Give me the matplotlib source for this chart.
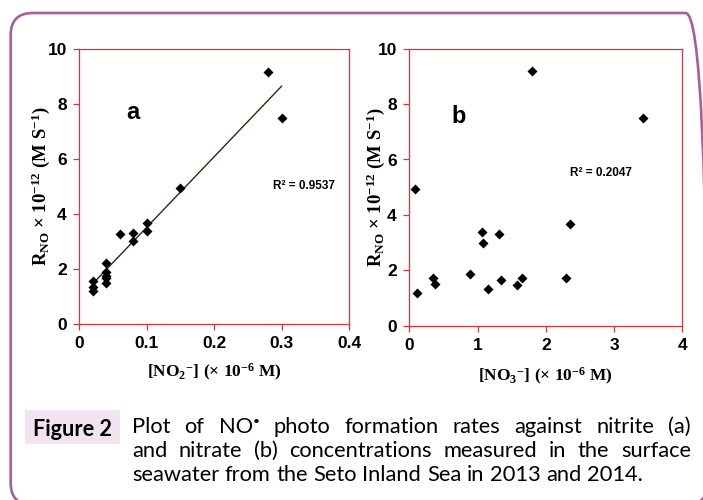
import numpy as np
import matplotlib.pyplot as plt
from matplotlib.patches import FancyBboxPatch, Rectangle
from matplotlib.transforms import IdentityTransform

# panel a: nitrite
no2 = [0.02, 0.02, 0.02, 0.04, 0.04, 0.04, 0.04, 0.04, 0.06, 0.08, 0.08, 0.10, 0.10, 0.15, 0.28, 0.30]
rate_a = [1.55, 1.35, 1.20, 2.21, 1.89, 1.75, 1.69, 1.50, 3.29, 3.32, 3.01, 3.69, 3.39, 4.96, 9.16, 7.51]

# panel b: nitrate
no3 = [0.08, 0.12, 0.35, 0.38, 0.89, 1.06, 1.08, 1.15, 1.31, 1.35, 1.58, 1.65, 1.80, 2.30, 2.36, 3.42]
rate_b = [4.93, 1.18, 1.71, 1.52, 1.88, 3.38, 2.98, 1.34, 3.30, 1.64, 1.48, 1.71, 9.18, 1.73, 3.67, 7.51]

r2_a = "R² = 0.9537"
r2_b = "R² = 0.2047"
xticks_a = [0, 0.1, 0.2, 0.3, 0.4]
xticklabels_a = ["0", "0.1", "0.2", "0.3", "0.4"]
xticks_b = [0, 1, 2, 3, 4]
yticks = [0, 2, 4, 6, 8, 10]

caption_lines = [
    "Plot of NO• photo formation rates against nitrite (a)",
    "and nitrate (b) concentrations measured in the surface",
    "seawater from the Seto Inland Sea in 2013 and 2014.",
]

plt.rcParams['mathtext.fontset'] = 'custom'
plt.rcParams['mathtext.rm'] = 'Liberation Serif:bold'
plt.rcParams['mathtext.bf'] = 'Liberation Serif:bold'
plt.rcParams['mathtext.it'] = 'Liberation Serif:bold'

W, H = 703, 500
fig = plt.figure(figsize=(7.03, 5.0), dpi=100)
fig.patch.set_facecolor('white')

red = '#d8343d'
tick_font = ['Liberation Sans Narrow', 'Liberation Sans']
label_font = ['Liberation Serif']

ylab = "R$_{\\mathbf{NO}}$ × 10$^{\\mathbf{-12}}$ (M S$^{\\mathbf{-1}}$)"
xlab_a = "[NO$_{\\mathbf{2}}$$^{\\mathbf{-}}$] (× 10$^{\\mathbf{-6}}$ M)"
xlab_b = "[NO$_{\\mathbf{3}}$$^{\\mathbf{-}}$] (× 10$^{\\mathbf{-6}}$ M)"

ax_a = fig.add_axes([79.3 / W, 1 - 324 / H, 269.7 / W, 274.7 / H])
ax_b = fig.add_axes([409.3 / W, 1 - 325.7 / H, 273 / W, 277 / H])

panels = [
    (ax_a, no2, rate_a, xticks_a, xticklabels_a, 0.4, xlab_a, r2_a, (0.834, 0.504), "a", (0.20, 0.77), -0.142, -0.178),
    (ax_b, no3, rate_b, xticks_b, [str(t) for t in xticks_b], 4, xlab_b, r2_b, (0.702, 0.552), "b", (0.18, 0.757), -0.122, -0.184),
]

for ax, x, y, xt, xtl, xmax, xlab, r2, r2pos, tag, tagpos, ylx, xly in panels:
    ax.scatter(x, y, marker='D', s=26, color='black', zorder=3, linewidths=0)
    ax.set_xlim(0, xmax)
    ax.set_ylim(0, 10)
    ax.set_xticks(xt)
    ax.set_xticklabels(xtl)
    ax.set_yticks(yticks)
    for s in ax.spines.values():
        s.set_color(red)
        s.set_linewidth(0.9)
    ax.tick_params(direction='out', color=red, length=4, width=0.9, pad=5)
    for lab in ax.get_xticklabels() + ax.get_yticklabels():
        lab.set_family(tick_font)
        lab.set_fontweight('bold')
        lab.set_fontsize(12.5)
    ax.text(r2pos[0], r2pos[1], r2, transform=ax.transAxes, ha='center', va='center',
            family=tick_font, fontweight='bold', fontsize=8.5)
    ax.text(tagpos[0], tagpos[1], tag, transform=ax.transAxes, ha='center', va='center',
            family=['Liberation Sans'], fontweight='bold', fontsize=17)
    ax.text(ylx, 0.5, ylab, transform=ax.transAxes, rotation=90, ha='center', va='center',
            family=label_font, fontweight='bold', fontsize=13.5)
    ax.text(0.5, xly, xlab, transform=ax.transAxes, ha='center', va='center',
            family=label_font, fontweight='bold', fontsize=12.5)

# linear trend for nitrite
k, b0 = np.polyfit(no2, rate_a, 1)
xs = np.array([min(no2), max(no2)])
ax_a.plot(xs, k * xs + b0, color='#3b2212', lw=1.0, zorder=2)

# rounded border
fig.patches.append(FancyBboxPatch((10.7, -5), 697, 492, boxstyle='round,pad=0,rounding_size=22',
                                  transform=IdentityTransform(), facecolor='none',
                                  edgecolor='#a95e96', lw=1.9, figure=fig))
fig.patches.append(Rectangle((25, H - 444), 95, 34, transform=IdentityTransform(),
                             facecolor='#f1e4ee', edgecolor='none', figure=fig))

renderer = fig.canvas.get_renderer()
cap_font = ['Lato', 'DejaVu Sans']


def width_of(s, size, weight='normal'):
    t = fig.text(0, 0, s, fontsize=size, family=cap_font, fontweight=weight)
    w = t.get_window_extent(renderer).width
    t.remove()
    return w


fs_fig = 10 * 79 / width_of("Figure 2", 10, 'bold')
fig.text(33 / W, 1 - 436 / H, "Figure 2", fontsize=fs_fig, family=cap_font,
         fontweight='bold', ha='left', va='baseline')

fs_cap = 10 * 512 / width_of(caption_lines[2], 10)
x0, x1 = 132, 691
baselines = [433, 457, 481]
for i, line in enumerate(caption_lines):
    words = line.split(' ')
    texts = []
    for w in words:
        if w.endswith('•'):
            # raised radical dot after NO
            t = fig.text(0, 1 - baselines[i] / H, w[:-1], fontsize=fs_cap, family=cap_font,
                         ha='left', va='baseline')
            dot = fig.text(0, 1 - (baselines[i] - 8) / H, '•', fontsize=fs_cap * 0.55,
                           family=cap_font, ha='left', va='baseline')
            t.dot = dot
        else:
            t = fig.text(0, 1 - baselines[i] / H, w, fontsize=fs_cap, family=cap_font,
                         ha='left', va='baseline')
            t.dot = None
        texts.append(t)
    widths = []
    for t in texts:
        wd = t.get_window_extent(renderer).width
        if t.dot is not None:
            wd += t.dot.get_window_extent(renderer).width
        widths.append(wd)
    if i < len(caption_lines) - 1:
        gap = (x1 - x0 - sum(widths)) / (len(words) - 1)
    else:
        gap = width_of("a a", fs_cap) - 2 * width_of("a", fs_cap)
    xp = x0
    for t, w in zip(texts, widths):
        t.set_x(xp / W)
        if t.dot is not None:
            t.dot.set_x((xp + t.get_window_extent(renderer).width) / W)
        xp += w + gap

fig.savefig('out.png', dpi=100)
